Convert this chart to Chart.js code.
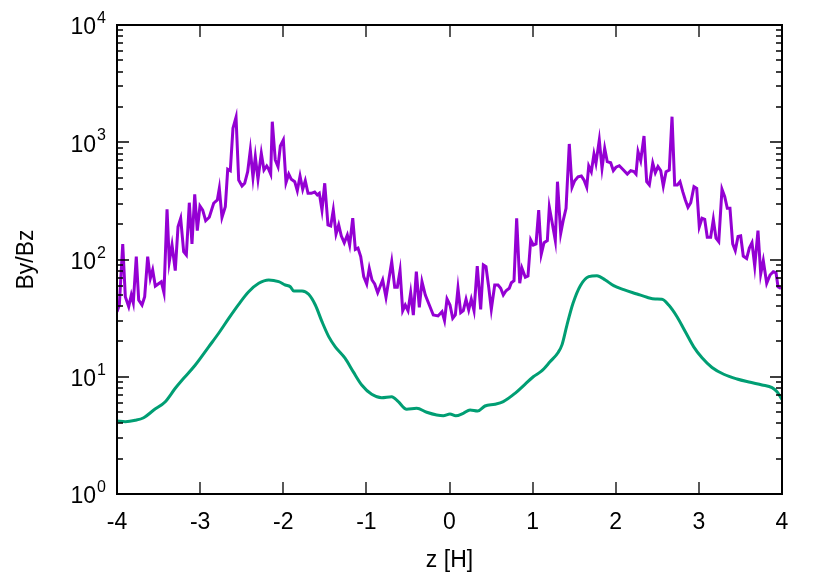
<!DOCTYPE html>
<html>
<head>
<meta charset="utf-8">
<title>By/Bz</title>
<script src="https://cdn.jsdelivr.net/npm/chart.js@4.4.1/dist/chart.umd.min.js"></script>
<style>
  html, body { margin: 0; padding: 0; background: #fff; }
  #wrap { width: 830px; height: 581px; position: relative; }
</style>
</head>
<body>
<div id="wrap"><canvas id="ratioChart"></canvas></div>
<script>
// noisy By/Bz (purple)
const zNoisy = [
  -4.000,-3.972,-3.931,-3.900,-3.859,-3.828,-3.804,-3.768,-3.739,-3.699,
  -3.667,-3.631,-3.599,-3.571,-3.539,-3.467,-3.435,-3.398,-3.371,-3.338,
  -3.299,-3.266,-3.234,-3.198,-3.166,-3.130,-3.098,-3.065,-3.034,-3.002,
  -2.969,-2.933,-2.890,-2.837,-2.793,-2.769,-2.737,-2.697,-2.668,-2.637,
  -2.605,-2.568,-2.536,-2.496,-2.464,-2.428,-2.396,-2.364,-2.336,-2.304,
  -2.264,-2.232,-2.199,-2.175,-2.151,-2.132,-2.096,-2.063,-2.035,-1.999,
  -1.967,-1.934,-1.903,-1.862,-1.831,-1.798,-1.766,-1.735,-1.702,-1.663,
  -1.622,-1.590,-1.566,-1.534,-1.501,-1.462,-1.429,-1.398,-1.365,-1.333,
  -1.302,-1.266,-1.229,-1.201,-1.164,-1.133,-1.101,-1.068,-1.032,-0.996,
  -0.965,-0.932,-0.900,-0.864,-0.804,-0.764,-0.695,-0.659,-0.628,-0.595,
  -0.563,-0.532,-0.499,-0.467,-0.435,-0.399,-0.363,-0.331,-0.291,-0.243,
  -0.195,-0.138,-0.090,-0.060,-0.030,0.006,0.039,0.070,0.102,0.135,
  0.166,0.199,0.231,0.262,0.295,0.334,0.375,0.407,0.439,0.472,
  0.503,0.544,0.584,0.616,0.647,0.680,0.719,0.744,0.776,0.808,
  0.845,0.872,0.912,0.944,0.977,1.008,1.041,1.073,1.104,1.137,
  1.177,1.201,1.233,1.273,1.299,1.338,1.369,1.402,1.441,1.474,
  1.506,1.546,1.586,1.618,1.651,1.675,1.706,1.738,1.762,1.802,
  1.835,1.867,1.898,1.939,1.971,2.003,2.043,2.084,2.139,2.180,
  2.220,2.244,2.268,2.300,2.340,2.372,2.404,2.445,2.476,2.508,
  2.541,2.572,2.605,2.644,2.677,2.709,2.741,2.773,2.806,2.837,
  2.869,2.902,2.941,2.974,3.005,3.038,3.070,3.101,3.142,3.174,
  3.206,3.239,3.278,3.311,3.342,3.374,3.407,3.438,3.471,3.503,
  3.534,3.575,3.607,3.639,3.672,3.711,3.744,3.775,3.816,3.856,
  3.895,3.928,3.952,3.988
];
const byBzNoisy = [
  35.9,40.9,135.6,48.2,39.6,49.8,42.6,105.7,45.1,40.9,
  48.2,105.7,69.1,81.4,59.4,64.7,52.1,268,95.8,132.9,
  80.3,190.4,224.6,116.5,109.2,305,135.6,360,176,286,
  264,214,229,302,322,405,229,282,588,572,
  1315,1633,476,424,447,561,859,502,753,483,
  805,580,627,588,536,1497,706,619,929,1045,
  452,536,483,461,386,515,397,470,367,367,
  376,355,367,264,447,197,193,264,165,197,
  159,139,162,133,225,122,125,106,71.4,61.8,
  84.1,66.9,61.8,52.1,66.9,47.6,95.8,57.9,57.9,80.3,
  36.6,40.9,36.6,52.1,33.6,78.7,39.1,64.7,49.8,40.9,
  33.6,33.0,35.9,30.2,46.0,40.9,31.5,33.6,56.8,35.2,
  36.6,45.8,37.1,45.8,36.6,88.0,37.6,89.8,86.8,57.9,
  37.6,60.6,60.6,56.8,49.8,54.2,56.8,63.4,65.9,225,
  62.7,84.1,70.5,72.3,147,133,136,264,111,139,
  145,279,210,145,461,167,217,273,967,413,
  470,508,515,476,413,627,561,794,662,1045,
  600,888,683,669,572,612,631,588,536,572,
  561,536,831,696,1131,461,432,662,550,619,
  572,424,561,580,1652,432,432,461,379,322,
  279,305,418,405,190,225,220,155,155,220,
  152,142,397,343,273,273,136,119,157,159,
  107,102,125,139,88.0,176,75.2,97.7,62.7,73.8,
  78.7,77.2,58.6,56.8
];

// smooth By/Bz (green)
const zSmooth = [
  -4.000,-3.900,-3.780,-3.679,-3.558,-3.419,-3.299,-3.198,-3.058,-2.897,
  -2.777,-2.656,-2.536,-2.416,-2.295,-2.175,-2.055,-1.975,-1.915,-1.874,
  -1.774,-1.694,-1.614,-1.534,-1.453,-1.374,-1.257,-1.157,-1.056,-0.936,
  -0.816,-0.695,-0.616,-0.515,-0.395,-0.274,-0.154,-0.075,0.006,0.075,
  0.166,0.247,0.339,0.427,0.547,0.647,0.788,0.908,1.008,1.109,
  1.209,1.309,1.353,1.413,1.486,1.574,1.675,1.774,1.874,1.975,
  2.096,2.256,2.376,2.476,2.556,2.637,2.737,2.837,2.938,3.038,
  3.158,3.299,3.459,3.619,3.760,3.880,3.940,4.000
];
const byBzSmooth = [
  4.19,4.14,4.25,4.47,5.20,6.13,7.97,9.70,12.6,18.0,
  23.5,31.5,41.5,53.1,62.7,66.9,64.7,60.6,58.6,53.9,
  53.9,50.5,40.9,29.5,22.0,18.0,14.4,11.0,8.51,7.09,
  6.63,6.76,6.13,5.28,5.38,4.98,4.72,4.65,4.81,4.65,
  4.88,5.20,5.10,5.63,5.82,6.13,7.22,8.62,10.0,11.2,
  13.4,16.2,18.7,27.6,42.3,59.8,71.4,72.8,66.9,59.8,
  55.3,50.8,47.6,46.0,45.8,40.9,32.5,24.2,18.0,14.5,
  12.0,10.5,9.57,8.97,8.51,8.07,7.46,6.4
];

const xTicks = [-4, -3, -2, -1, 0, 1, 2, 3, 4];
const yExponents = [0, 1, 2, 3, 4];

const FONT = '"Liberation Sans", Arial, sans-serif';

// gnuplot-style frame: box, inward ticks, 10^n labels
const framePlugin = {
  id: 'frame',
  afterDraw(chart) {
    const { ctx, chartArea: a } = chart;
    const xs = chart.scales.x, ys = chart.scales.y;
    ctx.save();
    ctx.strokeStyle = '#000';
    ctx.lineWidth = 1.3;

    // x ticks (bottom + mirrored top)
    ctx.beginPath();
    xTicks.forEach(v => {
      const px = Math.round(xs.getPixelForValue(v));
      ctx.moveTo(px, a.bottom); ctx.lineTo(px, a.bottom - 12);
      ctx.moveTo(px, a.top); ctx.lineTo(px, a.top + 12);
    });
    // y major + minor ticks (left + right)
    yExponents.forEach(e => {
      const py = Math.round(ys.getPixelForValue(Math.pow(10, e)));
      ctx.moveTo(a.left, py); ctx.lineTo(a.left + 12, py);
      ctx.moveTo(a.right, py); ctx.lineTo(a.right - 12, py);
      if (e < 4) {
        for (let m = 2; m <= 9; m++) {
          const my = Math.round(ys.getPixelForValue(m * Math.pow(10, e)));
          ctx.moveTo(a.left, my); ctx.lineTo(a.left + 6, my);
          ctx.moveTo(a.right, my); ctx.lineTo(a.right - 6, my);
        }
      }
    });
    ctx.stroke();

    ctx.lineWidth = 2;
    ctx.strokeRect(a.left, a.top, a.right - a.left, a.bottom - a.top);

    // tick labels
    ctx.fillStyle = '#000';
    ctx.font = '23px ' + FONT;
    ctx.textAlign = 'center';
    ctx.textBaseline = 'middle';
    xTicks.forEach(v => {
      ctx.fillText(String(v), xs.getPixelForValue(v), a.bottom + 29);
    });

    yExponents.forEach(e => {
      const py = ys.getPixelForValue(Math.pow(10, e));
      ctx.font = '16px ' + FONT;
      ctx.textAlign = 'right';
      ctx.textBaseline = 'alphabetic';
      const expW = ctx.measureText(String(e)).width;
      ctx.fillText(String(e), 106, py - 2);
      ctx.font = '23px ' + FONT;
      ctx.textBaseline = 'middle';
      ctx.fillText('10', 106 - expW - 1, py + 3);
    });
    ctx.restore();
  }
};

document.addEventListener('DOMContentLoaded', function() {
  const ctx = document.getElementById('ratioChart');
  new Chart(ctx, {
    type: 'line',
    data: {
      datasets: [
        {
          label: 'By/Bz',
          data: zNoisy.map((z, i) => ({ x: z, y: byBzNoisy[i] })),
          borderColor: '#9400d3',
          borderWidth: 3,
          pointRadius: 0,
          tension: 0,
          fill: false
        },
        {
          label: 'By/Bz (smooth)',
          data: zSmooth.map((z, i) => ({ x: z, y: byBzSmooth[i] })),
          borderColor: '#009e73',
          borderWidth: 3,
          pointRadius: 0,
          cubicInterpolationMode: 'monotone',
          fill: false
        }
      ]
    },
    options: {
      responsive: true,
      maintainAspectRatio: false,
      animation: false,
      layout: { padding: { top: 25, right: 48, left: 0, bottom: 0 } },
      plugins: {
        legend: { display: false },
        tooltip: { enabled: false }
      },
      scales: {
        x: {
          type: 'linear',
          min: -4,
          max: 4,
          grid: { display: false, drawTicks: false },
          border: { display: false },
          ticks: { display: false, stepSize: 1 },
          title: {
            display: true,
            text: 'z [H]',
            color: '#000',
            font: { family: FONT, size: 23 },
            padding: { bottom: 7 }
          },
          afterFit(scale) { scale.height = 87; }
        },
        y: {
          type: 'logarithmic',
          min: 1,
          max: 10000,
          grid: { display: false, drawTicks: false },
          border: { display: false },
          ticks: { display: false },
          title: {
            display: true,
            text: 'By/Bz',
            color: '#000',
            font: { family: FONT, size: 23 },
            padding: { top: 13 }
          },
          afterFit(scale) { scale.width = 117; }
        }
      }
    },
    plugins: [framePlugin]
  });
});
</script>
</body>
</html>
